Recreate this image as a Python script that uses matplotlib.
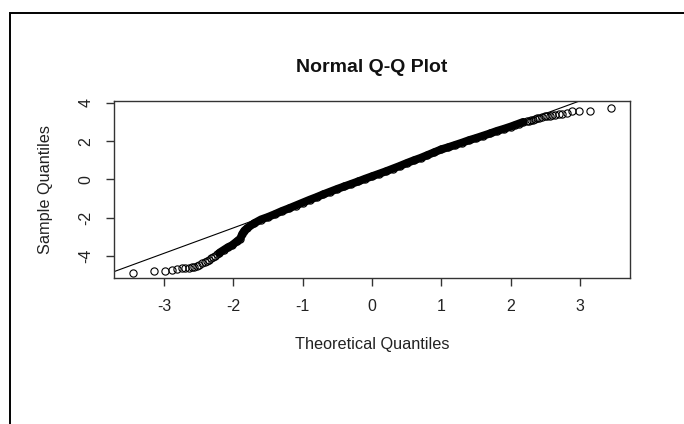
import matplotlib
matplotlib.use('Agg')
import matplotlib.pyplot as plt
from matplotlib.patches import Rectangle

# tail points: theoretical normal quantile vs sorted sample value
tail_theoretical = [-3.45, -3.14, -2.99, -2.89, -2.81, -2.74, -2.69, -2.64, -2.60,
                    -2.56, -2.52, -2.49, -2.45, -2.41, -2.38, -2.35, -2.32, -2.29,
                    -2.26, -2.23,
                    2.23, 2.26, 2.29, 2.32, 2.35, 2.38, 2.41, 2.45, 2.49, 2.52,
                    2.56, 2.60, 2.64, 2.69, 2.74, 2.81, 2.89, 2.99, 3.14, 3.45]
tail_sample = [-4.90, -4.79, -4.78, -4.72, -4.67, -4.65, -4.64, -4.62, -4.60,
               -4.57, -4.52, -4.46, -4.40, -4.32, -4.26, -4.20, -4.13, -4.06,
               -3.99, -3.92,
               3.04, 3.07, 3.10, 3.13, 3.16, 3.19, 3.22, 3.26, 3.29, 3.31,
               3.34, 3.36, 3.38, 3.40, 3.42, 3.45, 3.56, 3.56, 3.60, 3.74]

# dense middle run of points
band_theoretical = [-2.20, -2.14, -2.08, -2.02, -1.95, -1.9, -1.87, -1.84, -1.8, -1.7,
                    -1.6, -1.5, -1.4, -1.3, -1.2, -1.1, -1.0, -0.9, -0.8, -0.7,
                    -0.6, -0.5, -0.4, -0.3, -0.2, -0.1, 0.0, 0.1, 0.2, 0.3, 0.4,
                    0.5, 0.6, 0.7, 0.8, 0.9, 1.0, 1.1, 1.2, 1.3, 1.4, 1.5, 1.6,
                    1.7, 1.8, 1.9, 2.0, 2.06, 2.12, 2.18]
band_sample = [-3.84, -3.70, -3.56, -3.45, -3.25, -3.10, -2.85, -2.68, -2.55, -2.30,
               -2.10, -1.97, -1.82, -1.66, -1.52, -1.37, -1.22, -1.07, -0.93, -0.78,
               -0.64, -0.50, -0.37, -0.24, -0.11, 0.03, 0.16, 0.29, 0.42, 0.56, 0.70,
               0.85, 0.99, 1.12, 1.27, 1.42, 1.57, 1.68, 1.80, 1.92, 2.05, 2.16, 2.28,
               2.40, 2.53, 2.64, 2.76, 2.84, 2.92, 3.00]

# reference line through the quartiles
line_intercept = 0.12
line_slope = 1.33

x_ticks = [-3, -2, -1, 0, 1, 2, 3]
y_ticks = [-4, -2, 0, 2, 4]

plt.rcParams['font.family'] = ['Liberation Sans', 'DejaVu Sans']
txt = '#222222'

fig = plt.figure(figsize=(6.84, 4.24), dpi=100)
ax = fig.add_axes([114 / 684, 1 - 278 / 424, 516 / 684, 177 / 424])

ax.plot(band_theoretical, band_sample, color='black', lw=5.8, solid_capstyle='round')
ax.plot(tail_theoretical + band_theoretical, tail_sample + band_sample, 'o',
        mfc='none', mec='black', ms=5.2, mew=0.8)
ax.axline((0, line_intercept), slope=line_slope, color='black', lw=0.8)

ax.set_xlim(-3.72, 3.72)
ax.set_ylim(-5.16, 4.10)
ax.set_xticks(x_ticks)
ax.set_yticks(y_ticks)
ax.set_xticklabels([str(v) for v in x_ticks])
ax.set_yticklabels([str(v) for v in y_ticks], rotation=90, va='center')

for s in ax.spines.values():
    s.set_color('#333333')
    s.set_linewidth(1.0)
ax.tick_params(direction='out', length=6, width=1, color='#333333',
               labelsize=11.5, labelcolor=txt, pad=9)

ax.set_title('Normal Q-Q Plot', fontsize=14, fontweight='bold', color='#111111', pad=21)
ax.set_xlabel('Theoretical Quantiles', fontsize=11.7, color=txt)
ax.set_ylabel('Sample Quantiles', fontsize=11.7, color=txt)
ax.xaxis.set_label_coords(0.5, -0.335)
ax.yaxis.set_label_coords(-0.118, 0.5)

# window frame on left and top
fig.add_artist(Rectangle((10 / 684, -0.5), 2, 0.5 + 1 - 13 / 424,
                         transform=fig.transFigure, fill=False, ec='black', lw=1.4))

fig.savefig('out.png', dpi=100, facecolor='white')
